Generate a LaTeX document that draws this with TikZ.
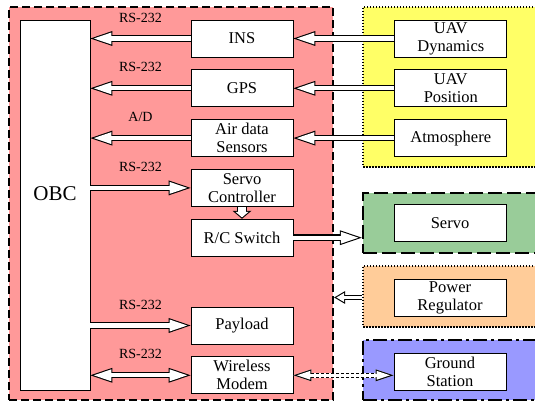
\documentclass[tikz,border=0pt]{standalone}
\usepackage{fontspec}
\setmainfont{Liberation Serif}
\usetikzlibrary{positioning,arrows.meta}

\definecolor{obcred}{HTML}{FF9999}
\definecolor{envyellow}{HTML}{FFFF66}
\definecolor{servogreen}{HTML}{99CC99}
\definecolor{powerorange}{HTML}{FFCC99}
\definecolor{groundblue}{HTML}{9999FF}

\tikzset{
  unit/.style={draw, fill=white, line width=0.8pt, minimum width=102pt, minimum height=37pt,
    align=center, inner sep=1pt, font=\fontsize{16.5}{18}\selectfont},
  env/.style={unit, minimum width=112pt},
  zone/.style={draw=black, line width=2.4pt, minimum width=182pt, inner sep=0pt},
  link/.style={midway, above=13pt, inner sep=0pt, font=\fontsize{14}{16}\selectfont},
  % tips: black rim and white core of the block arrows
  big rim/.tip={Triangle[length=22pt,width=15pt,line width=0pt]},
  big core/.tip={Triangle[length=17.5pt,width=11.9pt,line width=0pt]},
  small rim/.tip={Triangle[length=11pt,width=13pt,line width=0pt]},
  small core/.tip={Triangle[length=7.7pt,width=9.1pt,line width=0pt]},
  fat rim/.tip={Triangle[length=8pt,width=19pt,line width=0pt]},
  fat core/.tip={Triangle[length=5.5pt,width=13pt,line width=0pt]},
  thin rim/.tip={Triangle[length=18pt,width=12pt,line width=0pt]},
  thin core/.tip={Triangle[length=13.4pt,width=8.9pt,line width=0pt]},
  % white arrows: black stroke first, white stroke on top
  hollow/.style={draw=black, line width=6.4pt, -{big rim},
    postaction={draw=white, line width=4.2pt, -{big core}, shorten >=3.4pt}},
  hollow both/.style={draw=black, line width=6.4pt, {big rim}-{big rim},
    postaction={draw=white, line width=4.2pt, {big core}-{big core},
      shorten >=3.4pt, shorten <=3.4pt}},
  hollow small/.style={draw=black, line width=5.2pt, -{small rim},
    postaction={draw=white, line width=3pt, -{small core}, shorten >=2.2pt}},
  hollow fat/.style={draw=black, line width=10pt, -{fat rim},
    postaction={draw=white, line width=7.8pt, -{fat core}, shorten >=1.4pt}},
  hollow dashed/.style={draw=black, line width=5.2pt, dash pattern=on 3pt off 2pt,
    {thin rim}-{thin rim},
    preaction={draw=white, solid, line width=5.2pt, {thin rim}-{thin rim}},
    postaction={draw=white, solid, line width=3pt, {thin core}-{thin core},
      shorten >=3.5pt, shorten <=3.5pt}},
}

\begin{document}
\begin{tikzpicture}[x=1pt, y=1pt]
  \clip (0,0) rectangle (535,401);

  % coloured areas
  \node[zone, fill=obcred, dash pattern=on 8pt off 4pt,
    minimum width=324pt, minimum height=393pt] (onboard) at (171,197.5) {};
  \node[zone, fill=envyellow, line width=1.5pt, dash pattern=on 1.5pt off 1.5pt,
    minimum height=160pt] (envzone) at (454,314) {};
  \node[zone, fill=servogreen, dash pattern=on 14pt off 5pt,
    minimum height=60pt] (servozone) at (454,178) {};
  \node[zone, fill=powerorange, line width=1.5pt, dash pattern=on 1.5pt off 1.5pt,
    minimum height=61pt] (powerzone) at (454,104.5) {};
  \node[zone, fill=groundblue, dash pattern=on 14pt off 4pt on 3pt off 4pt,
    minimum height=60pt] (groundzone) at (454,31) {};

  % on-board units
  \node[unit, minimum width=70pt, minimum height=370pt, text height=15pt, text depth=24pt,
    font=\fontsize{21}{24}\selectfont] (obc) at (55,196) {OBC};
  \node[unit] (ins) at (242,362.5) {INS};
  \node[unit, below=12pt of ins] (gps) {GPS};
  \node[unit, below=12pt of gps] (airdata) {Air data\\Sensors};
  \node[unit, below=12pt of airdata] (servoctrl) {Servo\\Controller};
  \node[unit, below=12pt of servoctrl] (rcswitch) {R/C Switch};
  \node[unit, below=50pt of rcswitch] (payload) {Payload};
  \node[unit, below=12pt of payload] (modem) {Wireless\\Modem};

  % outside world
  \node[env, right=101pt of ins] (dynamics) {UAV\\Dynamics};
  \node[env, right=101pt of gps] (position) {UAV\\Position};
  \node[env, right=101pt of airdata] (atmosphere) {Atmosphere};
  \node[env] (servo) at (450,178) {Servo};
  \node[env] (regulator) at (450,103.5) {Power\\Regulator};
  \node[env] (ground) at (450,29.5) {Ground\\Station};

  % data flow
  \draw[hollow] (dynamics.west) -- (ins.east);
  \draw[hollow] (position.west) -- (gps.east);
  \draw[hollow] (atmosphere.west) -- (airdata.east);
  \draw[hollow] (ins.west) -- (ins.west -| obc.east) node[link] {RS-232};
  \draw[hollow] (gps.west) -- (gps.west -| obc.east) node[link] {RS-232};
  \draw[hollow] (airdata.west) -- (airdata.west -| obc.east) node[link] {A/D};
  \draw[hollow] (servoctrl.west -| obc.east) -- (servoctrl.west) node[link] {RS-232};
  \draw[hollow fat] (servoctrl.south) -- (rcswitch.north);
  \draw[hollow] (rcswitch.east) -- (rcswitch.east -| servozone.west);
  \draw[hollow small] (powerzone.west |- regulator) -- (onboard.east |- regulator);
  \draw[hollow] (payload.west -| obc.east) -- (payload.west) node[link] {RS-232};
  \draw[hollow both] (modem.west -| obc.east) -- (modem.west) node[link] {RS-232};
  \draw[hollow dashed] (modem.east) -- (modem.east -| ground.west);
\end{tikzpicture}
\end{document}
